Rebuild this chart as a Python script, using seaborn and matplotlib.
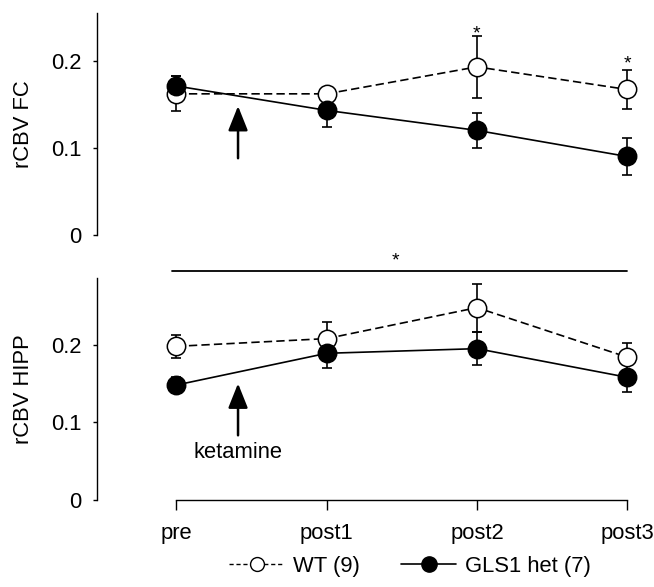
import numpy as np
import pandas as pd
import matplotlib
matplotlib.use("Agg")
import matplotlib.pyplot as plt
import seaborn as sns
from matplotlib.lines import Line2D

# ---- data ----
timepoints = ["pre", "post1", "post2", "post3"]
groups = ["WT (9)", "GLS1 het (7)"]

fc_wt = [0.162, 0.162, 0.193, 0.167]
fc_wt_err = [0.020, 0.0, 0.036, 0.022]
fc_het = [0.171, 0.143, 0.120, 0.090]
fc_het_err = [0.012, 0.019, 0.020, 0.021]

hipp_wt = [0.198, 0.208, 0.248, 0.184]
hipp_wt_err = [0.015, 0.022, 0.031, 0.018]
hipp_het = [0.148, 0.189, 0.195, 0.158]
hipp_het_err = [0.010, 0.019, 0.021, 0.019]

FS = 15.8

sns.set_theme(style="ticks")
plt.rcParams['font.family'] = ['Liberation Sans', 'DejaVu Sans']
plt.rcParams['font.size'] = FS
for key in ["text.color", "axes.labelcolor", "xtick.color", "ytick.color",
            "axes.edgecolor"]:
    plt.rcParams[key] = "black"

fig = plt.figure(figsize=(6.54, 5.87), dpi=100)
ax1 = fig.add_axes([0.148, 0.600, 0.834, 0.378])
ax2 = fig.add_axes([0.148, 0.149, 0.834, 0.377])

x = np.arange(len(timepoints))


def panel(ax, wt, wte, het, hete, ylim, ylabel):
    df = pd.DataFrame({
        "t": np.concatenate([x, x]),
        "value": wt + het,
        "group": [groups[0]] * 4 + [groups[1]] * 4,
    })
    sns.lineplot(data=df, x="t", y="value", hue="group", style="group",
                 palette={groups[0]: "black", groups[1]: "black"},
                 dashes={groups[0]: (5, 2.5), groups[1]: ""},
                 linewidth=1.2, legend=False, ax=ax, zorder=2)
    ax.errorbar(x, wt, yerr=wte, fmt="none", ecolor="black", elinewidth=1.2,
                capsize=3.5, capthick=1.2, zorder=1)
    ax.errorbar(x, het, yerr=hete, fmt="none", ecolor="black", elinewidth=1.2,
                capsize=3.5, capthick=1.2, zorder=1)
    sns.scatterplot(x=x, y=wt, color="white", edgecolor="black", linewidth=1.1,
                    s=175, ax=ax, zorder=3, legend=False)
    sns.scatterplot(x=x, y=het, color="black", edgecolor="black", linewidth=1.1,
                    s=175, ax=ax, zorder=4, legend=False)
    ax.set_xlim(-0.53, 3.1)
    ax.set_ylim(*ylim)
    ax.set_yticks([0, 0.1, 0.2])
    ax.set_yticklabels(["0", "0.1", "0.2"])
    ax.set_ylabel(ylabel, fontsize=FS, labelpad=12)
    ax.set_xlabel("")
    ax.tick_params(axis="y", length=3, width=1, pad=8, labelsize=FS)
    sns.despine(ax=ax)
    ax.spines["left"].set_linewidth(1)


panel(ax1, fc_wt, fc_wt_err, fc_het, fc_het_err, (0, 0.255), "rCBV FC")
panel(ax2, hipp_wt, hipp_wt_err, hipp_het, hipp_het_err, (0, 0.286), "rCBV HIPP")

ax1.spines["bottom"].set_visible(False)
ax1.set_xticks([])

ax2.set_xticks(x)
ax2.set_xticklabels(timepoints)
ax2.spines["bottom"].set_bounds(0, 3)
ax2.spines["bottom"].set_linewidth(1)
ax2.tick_params(axis="x", length=7, width=1, pad=10, labelsize=FS)

# significance stars
ax1.text(2, 0.231, "*", ha="center", va="center", fontsize=14)
ax1.text(3, 0.196, "*", ha="center", va="center", fontsize=14)
ax2.plot([-0.03, 3.0], [0.296, 0.296], color="black", lw=1.3, clip_on=False)
ax2.text(1.46, 0.308, "*", ha="center", va="center", fontsize=14, clip_on=False)

# ketamine arrows
arrow = dict(arrowstyle="-|>,head_length=0.75,head_width=0.3", lw=1.8,
             color="black", mutation_scale=20, shrinkA=0, shrinkB=0)
ax1.annotate("", xy=(0.41, 0.148), xytext=(0.41, 0.088), arrowprops=arrow)
ax2.annotate("", xy=(0.41, 0.150), xytext=(0.41, 0.083), arrowprops=arrow)
ax2.text(0.41, 0.061, "ketamine", ha="center", va="center", fontsize=FS)

# legend
handles = [
    Line2D([0], [0], color="black", lw=1.0, linestyle=(0, (3, 2)), marker="o",
           markersize=10, markerfacecolor="white", markeredgecolor="black"),
    Line2D([0], [0], color="black", lw=1.2, linestyle="-", marker="o",
           markersize=11, markerfacecolor="black", markeredgecolor="black"),
]
fig.legend(handles, groups, loc="center", bbox_to_anchor=(0.627, 0.035),
           ncol=2, frameon=False, handlelength=2.5, handletextpad=0.4,
           columnspacing=1.9, fontsize=FS)

fig.savefig("out.png", dpi=100)
